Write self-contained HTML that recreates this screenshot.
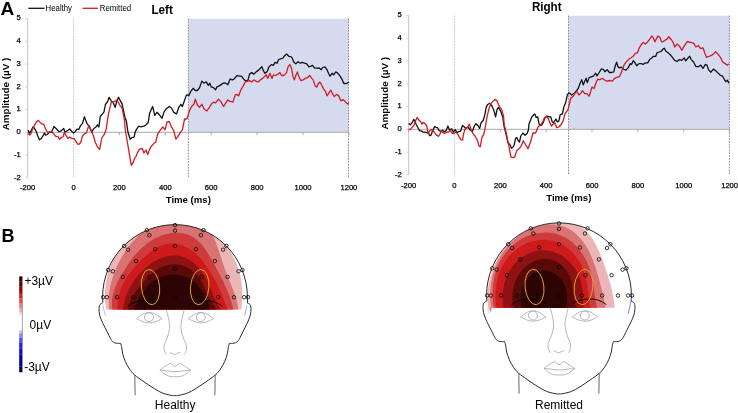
<!DOCTYPE html>
<html><head><meta charset="utf-8"><style>
html,body{margin:0;padding:0;background:#fff;}
body{width:738px;height:413px;overflow:hidden;font-family:"Liberation Sans", sans-serif;}
svg{display:block;will-change:transform;}
</style></head><body>
<svg width="738" height="413" viewBox="0 0 738 413" style="font-family:'Liberation Sans', sans-serif">
<rect width="738" height="413" fill="#fff"/>
<text x="0.6" y="14.9" font-size="19" font-weight="bold">A</text>
<text x="1.5" y="241.6" font-size="18" font-weight="bold">B</text>
<line x1="28.3" y1="8.3" x2="44.5" y2="8.3" stroke="#111" stroke-width="1.3"/>
<text x="45.6" y="10.9" font-size="8.8" textLength="26.4" lengthAdjust="spacingAndGlyphs">Healthy</text>
<line x1="82.5" y1="8.3" x2="98" y2="8.3" stroke="#d01c24" stroke-width="1.3"/>
<text x="99.8" y="10.9" font-size="8.8" textLength="31.4" lengthAdjust="spacingAndGlyphs">Remitted</text>
<rect x="188.40" y="18.75" width="160.10" height="113.55" fill="#d6daee"/>
<line x1="73.65" y1="18.55" x2="73.65" y2="177.80" stroke="#c0c0c0" stroke-width="0.9" stroke-dasharray="1.8,1.05"/>
<line x1="188.40" y1="18.55" x2="188.40" y2="177.80" stroke="#858585" stroke-width="0.9" stroke-dasharray="1.8,1.05"/>
<line x1="348.50" y1="18.55" x2="348.50" y2="177.80" stroke="#858585" stroke-width="0.9" stroke-dasharray="1.8,1.05"/>
<line x1="27.60" y1="18.55" x2="27.60" y2="177.80" stroke="#d0d0d0" stroke-width="1.3"/>
<line x1="25.40" y1="177.80" x2="27.60" y2="177.80" stroke="#c8c8c8" stroke-width="0.8"/>
<text x="20.80" y="179.70" font-size="7.6" text-anchor="end" stroke="#000" stroke-width="0.25">-2</text>
<line x1="25.40" y1="155.05" x2="27.60" y2="155.05" stroke="#c8c8c8" stroke-width="0.8"/>
<text x="20.80" y="156.95" font-size="7.6" text-anchor="end" stroke="#000" stroke-width="0.25">-1</text>
<line x1="25.40" y1="132.30" x2="27.60" y2="132.30" stroke="#c8c8c8" stroke-width="0.8"/>
<text x="20.80" y="134.20" font-size="7.6" text-anchor="end" stroke="#000" stroke-width="0.25">0</text>
<line x1="25.40" y1="109.55" x2="27.60" y2="109.55" stroke="#c8c8c8" stroke-width="0.8"/>
<text x="20.80" y="111.45" font-size="7.6" text-anchor="end" stroke="#000" stroke-width="0.25">1</text>
<line x1="25.40" y1="86.80" x2="27.60" y2="86.80" stroke="#c8c8c8" stroke-width="0.8"/>
<text x="20.80" y="88.70" font-size="7.6" text-anchor="end" stroke="#000" stroke-width="0.25">2</text>
<line x1="25.40" y1="64.05" x2="27.60" y2="64.05" stroke="#c8c8c8" stroke-width="0.8"/>
<text x="20.80" y="65.95" font-size="7.6" text-anchor="end" stroke="#000" stroke-width="0.25">3</text>
<line x1="25.40" y1="41.30" x2="27.60" y2="41.30" stroke="#c8c8c8" stroke-width="0.8"/>
<text x="20.80" y="43.20" font-size="7.6" text-anchor="end" stroke="#000" stroke-width="0.25">4</text>
<line x1="25.40" y1="18.55" x2="27.60" y2="18.55" stroke="#c8c8c8" stroke-width="0.8"/>
<text x="20.80" y="20.45" font-size="7.6" text-anchor="end" stroke="#000" stroke-width="0.25">5</text>
<line x1="27.60" y1="132.30" x2="348.90" y2="132.30" stroke="#a8a8a8" stroke-width="1"/>
<line x1="27.60" y1="132.30" x2="27.60" y2="135.30" stroke="#9a9a9a" stroke-width="0.8"/>
<text x="27.60" y="190.20" font-size="7.6" text-anchor="middle" stroke="#000" stroke-width="0.25">-200</text>
<line x1="73.50" y1="132.30" x2="73.50" y2="135.30" stroke="#9a9a9a" stroke-width="0.8"/>
<text x="73.50" y="190.20" font-size="7.6" text-anchor="middle" stroke="#000" stroke-width="0.25">0</text>
<line x1="119.40" y1="132.30" x2="119.40" y2="135.30" stroke="#9a9a9a" stroke-width="0.8"/>
<text x="119.40" y="190.20" font-size="7.6" text-anchor="middle" stroke="#000" stroke-width="0.25">200</text>
<line x1="165.30" y1="132.30" x2="165.30" y2="135.30" stroke="#9a9a9a" stroke-width="0.8"/>
<text x="165.30" y="190.20" font-size="7.6" text-anchor="middle" stroke="#000" stroke-width="0.25">400</text>
<line x1="211.20" y1="132.30" x2="211.20" y2="135.30" stroke="#9a9a9a" stroke-width="0.8"/>
<text x="211.20" y="190.20" font-size="7.6" text-anchor="middle" stroke="#000" stroke-width="0.25">600</text>
<line x1="257.10" y1="132.30" x2="257.10" y2="135.30" stroke="#9a9a9a" stroke-width="0.8"/>
<text x="257.10" y="190.20" font-size="7.6" text-anchor="middle" stroke="#000" stroke-width="0.25">800</text>
<line x1="303.00" y1="132.30" x2="303.00" y2="135.30" stroke="#9a9a9a" stroke-width="0.8"/>
<text x="303.00" y="190.20" font-size="7.6" text-anchor="middle" stroke="#000" stroke-width="0.25">1000</text>
<line x1="348.90" y1="132.30" x2="348.90" y2="135.30" stroke="#9a9a9a" stroke-width="0.8"/>
<text x="348.90" y="190.20" font-size="7.6" text-anchor="middle" stroke="#000" stroke-width="0.25">1200</text>
<polyline points="28.4,130.0 29.2,133.3 30.8,131.5 32.9,126.9 34.1,127.8 35.9,130.8 37.7,135.7 39.5,139.7 41.3,138.5 43.1,135.7 44.4,132.9 45.6,135.1 47.4,134.5 49.2,132.4 51.6,132.1 54.0,126.4 56.5,129.0 58.9,131.7 61.3,130.8 63.7,128.4 64.9,132.1 67.3,130.8 69.8,129.0 71.6,131.2 73.4,132.9 75.2,131.7 77.0,129.0 78.8,129.6 80.6,125.4 82.5,123.6 84.4,116.6 85.8,120.5 87.3,124.1 89.4,126.3 91.6,132.1 93.8,128.5 96.0,127.0 97.4,124.9 98.9,127.0 100.3,116.2 102.5,114.0 104.0,111.8 105.4,104.5 107.6,101.6 109.1,97.3 111.2,100.9 113.4,103.1 115.2,107.4 116.6,101.6 118.5,97.3 120.4,100.9 122.1,103.8 123.6,111.1 125.0,117.4 126.5,121.8 127.9,132.0 130.2,139.3 131.9,137.6 134.1,137.1 135.1,132.2 136.6,129.1 138.8,126.2 141.0,126.9 143.9,126.2 146.1,124.7 148.2,122.5 149.7,113.1 152.6,106.5 154.8,115.3 157.0,112.3 159.1,114.5 162.0,118.2 164.2,111.6 166.4,108.7 169.3,106.5 171.5,108.0 173.7,112.3 176.6,113.8 178.8,107.3 180.9,104.4 182.4,106.5 184.4,100.7 186.5,94.9 188.7,95.6 190.9,91.2 193.1,88.3 195.3,90.5 197.4,90.5 199.6,87.6 201.8,81.1 204.0,83.2 206.2,81.8 208.3,85.4 209.8,83.2 211.2,86.9 213.4,87.6 215.6,89.8 217.0,86.9 219.2,85.9 221.4,84.4 223.6,83.0 225.8,83.2 227.9,84.7 230.1,78.9 232.3,80.0 234.5,78.6 235.0,77.7 237.2,75.5 239.4,76.2 241.5,76.2 243.7,79.1 245.9,81.3 248.1,79.9 249.5,74.1 251.7,72.6 253.9,74.1 256.1,71.9 258.2,70.4 259.7,69.0 261.9,66.8 263.3,70.4 264.8,73.3 267.0,71.9 269.1,66.8 271.3,64.6 273.5,65.3 275.0,62.4 277.1,63.2 278.6,59.5 280.8,58.8 282.9,58.1 284.4,55.9 286.6,54.0 288.8,56.3 290.9,56.6 292.2,58.1 293.6,61.7 295.8,63.9 298.0,61.7 300.2,63.2 302.3,62.4 304.5,63.2 306.7,63.9 308.9,66.8 311.1,66.1 312.5,65.3 314.7,68.2 316.9,68.2 319.1,68.0 321.2,69.7 322.7,67.5 324.9,66.8 327.0,69.7 328.5,73.3 330.0,76.2 332.1,73.3 333.6,74.8 335.8,71.9 337.9,73.3 340.1,76.2 342.3,79.9 343.8,83.5 345.9,83.5 347.4,83.1 348.8,82.0" fill="none" stroke="#111" stroke-width="1.3" stroke-linejoin="round"/>
<polyline points="28.4,133.9 29.8,135.1 31.0,133.6 32.9,128.4 34.7,124.8 36.5,121.8 38.3,120.3 40.1,122.4 42.5,124.2 43.7,124.2 45.6,129.0 47.4,132.1 49.2,132.1 51.0,131.5 53.4,133.3 55.8,136.3 58.3,136.9 59.5,139.3 61.3,137.5 63.1,136.9 64.3,132.4 66.1,135.7 67.9,138.5 69.8,136.9 72.2,138.7 74.0,138.7 75.8,141.1 77.6,144.2 79.4,144.2 81.2,141.1 82.2,136.5 84.4,133.6 86.5,132.9 88.7,125.6 90.9,130.0 93.1,135.0 95.3,142.3 97.4,146.7 99.6,149.6 101.8,138.0 104.7,133.6 106.2,129.2 108.3,114.7 111.2,102.3 114.1,101.6 117.0,100.2 120.0,105.3 122.1,108.2 124.3,119.1 125.3,130.0 126.4,136.5 128.1,146.3 129.7,156.1 131.3,165.4 133.0,162.7 134.6,158.3 136.2,156.1 137.9,151.8 139.5,149.1 142.2,148.5 143.9,152.9 146.0,150.1 147.7,154.5 149.3,150.1 150.9,146.9 153.7,143.6 155.8,142.0 157.5,134.4 159.6,131.1 162.8,126.9 165.0,129.8 167.1,121.8 169.3,121.5 171.5,126.9 173.7,130.5 175.9,139.2 178.0,136.3 180.2,132.7 182.4,129.8 184.6,118.9 185.1,119.6 187.3,118.1 189.4,110.9 191.6,106.5 193.8,104.3 195.3,99.2 197.4,105.0 199.6,107.2 201.8,104.3 204.0,108.7 206.9,110.9 209.1,107.9 211.2,104.3 213.4,102.1 215.6,102.9 218.5,99.2 220.7,101.4 223.6,106.5 225.8,102.9 227.9,100.0 230.1,101.4 233.0,102.1 235.2,94.9 236.5,94.4 238.6,95.9 240.8,90.0 243.0,86.4 245.2,82.0 247.3,81.3 249.5,80.6 251.7,82.0 253.9,79.9 256.1,81.3 258.2,82.0 260.4,79.9 262.6,78.4 264.8,76.2 266.2,74.8 267.7,78.4 269.9,73.3 272.0,78.4 273.5,74.8 275.7,75.5 277.9,74.1 280.0,72.6 281.5,75.5 283.7,75.5 285.1,74.1 286.6,72.6 288.0,66.8 289.9,64.6 291.5,68.2 292.9,76.2 294.4,79.9 295.8,75.5 297.3,71.9 298.7,76.2 300.9,80.6 303.1,79.9 305.3,78.4 307.4,77.7 309.6,75.5 311.8,78.4 313.2,79.9 315.4,86.4 316.9,87.1 318.3,83.5 319.8,82.0 321.2,84.2 323.4,88.6 325.6,91.5 327.0,95.9 328.5,93.7 330.7,90.0 332.1,92.9 334.3,96.6 336.5,94.4 338.7,95.9 340.9,100.9 343.0,99.5 345.2,101.6 347.4,103.8 348.8,103.1" fill="none" stroke="#d01c24" stroke-width="1.3" stroke-linejoin="round"/>
<text x="151.4" y="13.5" font-size="12" font-weight="bold" textLength="21.4" lengthAdjust="spacingAndGlyphs">Left</text>
<text transform="translate(8.6,94.0) rotate(-90)" font-size="9.9" font-weight="bold" text-anchor="middle">Amplitude (µV )</text>
<text x="188.3" y="203.2" font-size="9.6" font-weight="bold" text-anchor="middle">Time (ms)</text>
<rect x="568.50" y="15.75" width="160.90" height="113.55" fill="#d6daee"/>
<line x1="454.55" y1="15.55" x2="454.55" y2="174.80" stroke="#c0c0c0" stroke-width="0.9" stroke-dasharray="1.8,1.05"/>
<line x1="568.50" y1="15.55" x2="568.50" y2="174.80" stroke="#858585" stroke-width="0.9" stroke-dasharray="1.8,1.05"/>
<line x1="729.40" y1="15.55" x2="729.40" y2="174.80" stroke="#858585" stroke-width="0.9" stroke-dasharray="1.8,1.05"/>
<line x1="408.60" y1="15.55" x2="408.60" y2="174.80" stroke="#d0d0d0" stroke-width="1.3"/>
<line x1="406.40" y1="174.80" x2="408.60" y2="174.80" stroke="#c8c8c8" stroke-width="0.8"/>
<text x="401.80" y="176.70" font-size="7.6" text-anchor="end" stroke="#000" stroke-width="0.25">-2</text>
<line x1="406.40" y1="152.05" x2="408.60" y2="152.05" stroke="#c8c8c8" stroke-width="0.8"/>
<text x="401.80" y="153.95" font-size="7.6" text-anchor="end" stroke="#000" stroke-width="0.25">-1</text>
<line x1="406.40" y1="129.30" x2="408.60" y2="129.30" stroke="#c8c8c8" stroke-width="0.8"/>
<text x="401.80" y="131.20" font-size="7.6" text-anchor="end" stroke="#000" stroke-width="0.25">0</text>
<line x1="406.40" y1="106.55" x2="408.60" y2="106.55" stroke="#c8c8c8" stroke-width="0.8"/>
<text x="401.80" y="108.45" font-size="7.6" text-anchor="end" stroke="#000" stroke-width="0.25">1</text>
<line x1="406.40" y1="83.80" x2="408.60" y2="83.80" stroke="#c8c8c8" stroke-width="0.8"/>
<text x="401.80" y="85.70" font-size="7.6" text-anchor="end" stroke="#000" stroke-width="0.25">2</text>
<line x1="406.40" y1="61.05" x2="408.60" y2="61.05" stroke="#c8c8c8" stroke-width="0.8"/>
<text x="401.80" y="62.95" font-size="7.6" text-anchor="end" stroke="#000" stroke-width="0.25">3</text>
<line x1="406.40" y1="38.30" x2="408.60" y2="38.30" stroke="#c8c8c8" stroke-width="0.8"/>
<text x="401.80" y="40.20" font-size="7.6" text-anchor="end" stroke="#000" stroke-width="0.25">4</text>
<line x1="406.40" y1="15.55" x2="408.60" y2="15.55" stroke="#c8c8c8" stroke-width="0.8"/>
<text x="401.80" y="17.45" font-size="7.6" text-anchor="end" stroke="#000" stroke-width="0.25">5</text>
<line x1="408.60" y1="129.30" x2="729.62" y2="129.30" stroke="#a8a8a8" stroke-width="1"/>
<line x1="408.60" y1="129.30" x2="408.60" y2="132.30" stroke="#9a9a9a" stroke-width="0.8"/>
<text x="408.60" y="187.60" font-size="7.6" text-anchor="middle" stroke="#000" stroke-width="0.25">-200</text>
<line x1="454.46" y1="129.30" x2="454.46" y2="132.30" stroke="#9a9a9a" stroke-width="0.8"/>
<text x="454.46" y="187.60" font-size="7.6" text-anchor="middle" stroke="#000" stroke-width="0.25">0</text>
<line x1="500.32" y1="129.30" x2="500.32" y2="132.30" stroke="#9a9a9a" stroke-width="0.8"/>
<text x="500.32" y="187.60" font-size="7.6" text-anchor="middle" stroke="#000" stroke-width="0.25">200</text>
<line x1="546.18" y1="129.30" x2="546.18" y2="132.30" stroke="#9a9a9a" stroke-width="0.8"/>
<text x="546.18" y="187.60" font-size="7.6" text-anchor="middle" stroke="#000" stroke-width="0.25">400</text>
<line x1="592.04" y1="129.30" x2="592.04" y2="132.30" stroke="#9a9a9a" stroke-width="0.8"/>
<text x="592.04" y="187.60" font-size="7.6" text-anchor="middle" stroke="#000" stroke-width="0.25">600</text>
<line x1="637.90" y1="129.30" x2="637.90" y2="132.30" stroke="#9a9a9a" stroke-width="0.8"/>
<text x="637.90" y="187.60" font-size="7.6" text-anchor="middle" stroke="#000" stroke-width="0.25">800</text>
<line x1="683.76" y1="129.30" x2="683.76" y2="132.30" stroke="#9a9a9a" stroke-width="0.8"/>
<text x="683.76" y="187.60" font-size="7.6" text-anchor="middle" stroke="#000" stroke-width="0.25">1000</text>
<line x1="729.62" y1="129.30" x2="729.62" y2="132.30" stroke="#9a9a9a" stroke-width="0.8"/>
<text x="729.62" y="187.60" font-size="7.6" text-anchor="middle" stroke="#000" stroke-width="0.25">1200</text>
<polyline points="408.6,123.6 410.4,124.8 412.3,122.4 413.7,119.4 414.9,121.2 416.1,124.2 417.7,127.2 419.5,130.8 421.3,130.8 423.1,132.1 425.0,132.1 426.8,132.4 428.6,133.3 429.8,135.7 431.0,135.1 432.8,130.2 434.6,126.6 435.8,127.2 437.7,127.8 438.9,130.2 440.7,131.5 442.5,130.2 444.3,131.7 446.1,130.8 447.9,126.0 449.5,130.2 451.6,128.8 453.4,132.1 455.2,129.6 457.0,132.7 458.8,131.5 460.6,131.2 462.5,125.4 464.4,127.0 465.8,128.5 468.0,127.0 470.2,130.0 472.3,131.4 474.5,125.6 476.0,123.7 478.2,126.0 479.6,128.5 481.1,122.7 483.2,120.5 484.7,115.4 486.2,107.4 487.6,104.5 489.8,103.4 492.0,106.0 494.1,111.1 495.6,116.9 497.0,109.6 498.5,107.4 500.7,111.1 502.9,117.6 503.8,125.0 505.9,133.5 508.0,142.8 510.2,144.9 511.4,148.3 512.7,147.5 514.0,145.3 515.7,138.1 516.9,137.7 518.2,140.7 519.5,142.0 520.8,136.0 522.9,133.0 525.0,135.2 527.1,133.5 528.4,130.1 529.0,124.1 530.4,120.4 531.9,116.8 533.3,115.3 534.8,113.9 536.2,117.5 537.7,116.8 539.1,124.1 540.6,125.5 542.0,124.8 543.5,121.9 545.0,117.5 547.1,116.1 549.3,116.8 550.8,116.8 552.2,121.9 553.7,122.6 555.9,119.0 557.3,121.9 558.8,121.2 560.2,114.6 562.4,113.9 563.8,107.3 565.8,102.3 567.3,95.0 568.7,92.9 570.2,93.6 571.6,95.0 573.8,93.6 576.0,91.4 578.2,88.5 580.3,82.7 581.8,79.8 583.2,84.9 584.7,81.2 586.2,78.3 587.3,82.7 589.1,77.6 591.2,76.9 593.4,76.2 595.6,73.2 597.0,75.9 599.2,72.5 601.4,68.9 603.6,69.6 605.0,71.8 607.2,69.6 609.4,72.5 611.6,72.5 613.8,71.8 615.2,66.0 616.6,62.2 617.9,66.5 619.4,67.9 621.5,67.2 623.7,69.4 625.9,70.1 628.1,67.9 630.3,63.6 631.7,64.3 633.2,60.7 634.6,62.1 636.8,65.8 639.0,63.6 641.2,63.6 643.3,64.3 645.5,62.9 647.7,62.9 649.9,59.2 652.0,57.8 653.5,56.3 655.7,56.3 657.1,52.7 659.3,52.0 661.5,51.2 662.9,49.1 664.4,48.3 665.9,51.2 668.0,52.7 670.1,54.5 672.4,57.3 674.7,60.4 677.1,61.5 679.4,59.6 681.8,60.4 684.2,58.0 685.7,60.9 688.1,58.0 689.7,56.2 691.2,59.6 693.6,62.0 696.0,66.7 698.3,66.7 700.7,65.1 703.0,68.3 705.4,64.3 707.0,65.1 708.6,69.9 710.9,72.2 713.3,69.1 715.6,70.6 718.0,73.0 720.4,75.4 722.7,76.2 724.3,79.3 725.9,81.7 727.4,80.1 729.0,83.2" fill="none" stroke="#111" stroke-width="1.3" stroke-linejoin="round"/>
<polyline points="408.6,129.0 410.4,129.6 412.3,127.2 414.1,124.8 415.6,120.6 417.1,117.5 418.9,120.0 420.7,121.8 421.9,124.2 423.1,122.4 425.0,123.6 426.8,126.0 428.0,133.9 429.2,131.5 431.0,129.6 432.8,130.8 434.6,132.7 436.5,135.1 438.3,136.3 440.1,133.9 441.3,130.8 443.1,132.7 444.9,133.3 446.7,132.1 448.5,132.1 450.4,130.2 452.2,133.3 454.0,133.6 455.8,132.1 457.6,133.9 459.4,137.5 461.2,139.9 462.6,140.1 463.6,133.6 465.1,129.2 467.3,127.5 469.4,124.1 470.9,129.2 473.1,133.6 475.3,136.5 477.4,140.1 478.9,145.9 480.3,146.7 481.8,137.9 484.0,133.6 485.4,126.3 486.9,117.6 489.1,108.2 491.2,103.1 492.7,101.6 494.9,99.4 497.0,100.9 498.5,104.5 500.0,107.4 501.4,108.9 503.6,116.2 504.2,125.0 506.4,133.5 508.5,144.5 510.0,152.0 511.0,157.2 512.7,157.6 514.8,156.8 516.9,150.4 519.5,148.3 521.2,146.2 523.3,140.7 525.4,144.5 528.0,148.7 530.5,142.0 533.0,133.0 535.6,133.0 538.1,126.7 540.6,124.8 542.8,121.9 544.2,118.2 546.4,116.1 548.6,119.0 550.0,123.3 551.5,126.2 552.9,124.1 555.1,123.3 556.6,127.7 558.8,127.0 560.9,124.8 563.1,121.2 565.0,113.9 568.0,109.6 569.4,103.8 570.9,97.9 573.1,96.5 575.3,92.9 576.7,91.4 578.9,95.0 581.1,92.9 582.5,90.7 584.7,93.6 586.9,93.6 589.1,96.2 590.5,92.1 592.0,87.0 594.1,88.5 596.3,82.0 597.8,79.1 600.0,79.8 602.1,78.3 604.3,79.8 606.5,81.2 609.4,80.5 612.3,81.2 614.5,78.3 616.7,77.4 619.4,76.7 620.8,73.8 622.3,69.4 624.4,64.3 626.6,61.4 628.8,59.2 631.0,57.8 633.2,56.3 635.3,53.4 637.5,52.7 639.0,48.3 641.2,44.7 643.3,42.5 645.5,44.0 647.7,41.8 649.9,38.9 652.0,36.0 653.5,38.2 654.9,41.8 656.4,38.9 657.9,36.0 660.0,37.4 661.5,41.8 662.9,41.8 665.1,40.3 667.3,38.9 668.8,36.7 670.2,38.5 671.6,40.0 673.1,42.3 674.7,47.0 677.1,43.9 679.4,46.2 681.8,50.2 684.2,46.2 687.3,41.5 690.5,42.3 693.6,43.1 696.0,47.0 698.3,45.5 700.7,48.6 703.0,47.8 704.6,52.5 706.5,57.3 708.6,56.5 710.9,55.7 713.3,54.1 715.6,51.8 718.0,54.1 720.4,57.3 722.7,62.0 725.1,63.6 727.4,65.1 729.0,63.6" fill="none" stroke="#d01c24" stroke-width="1.3" stroke-linejoin="round"/>
<text x="531.9" y="10.8" font-size="12" font-weight="bold" textLength="29.7" lengthAdjust="spacingAndGlyphs">Right</text>
<text transform="translate(387.6,93.3) rotate(-90)" font-size="9.9" font-weight="bold" text-anchor="middle">Amplitude (µV )</text>
<text x="568.8" y="200.6" font-size="9.6" font-weight="bold" text-anchor="middle">Time (ms)</text>
<rect x="19.2" y="276.4" width="3.0" height="4.95" fill="#300000"/>
<rect x="19.2" y="281.3" width="3.0" height="4.85" fill="#5e0000"/>
<rect x="19.2" y="286.1" width="3.0" height="4.95" fill="#8e0000"/>
<rect x="19.2" y="291" width="3.0" height="3.65" fill="#be0202"/>
<rect x="19.2" y="294.6" width="3.0" height="3.65" fill="#dc1414"/>
<rect x="19.2" y="298.2" width="3.0" height="4.85" fill="#e04c4c"/>
<rect x="19.2" y="303" width="3.0" height="4.95" fill="#e88080"/>
<rect x="19.2" y="307.9" width="3.0" height="4.85" fill="#f0b0b0"/>
<rect x="19.2" y="312.7" width="3.0" height="2.55" fill="#f8dede"/>
<rect x="19.2" y="315.2" width="3.0" height="15.05" fill="#ffffff"/>
<rect x="19.2" y="330.2" width="3.0" height="3.15" fill="#c4c4f6"/>
<rect x="19.2" y="333.3" width="3.0" height="4.45" fill="#8484f0"/>
<rect x="19.2" y="337.7" width="3.0" height="5.15" fill="#5050f4"/>
<rect x="19.2" y="342.8" width="3.0" height="5.65" fill="#2020f0"/>
<rect x="19.2" y="348.4" width="3.0" height="6.35" fill="#0a0ad8"/>
<rect x="19.2" y="354.7" width="3.0" height="6.35" fill="#0000b0"/>
<rect x="19.2" y="361" width="3.0" height="5.75" fill="#000080"/>
<rect x="19.2" y="366.7" width="3.0" height="5.55" fill="#00004c"/>
<line x1="22.4" y1="276.4" x2="22.4" y2="372.2" stroke="#666" stroke-width="0.6"/>
<text x="24.4" y="284.6" font-size="12">+3µV</text>
<text x="29.6" y="329.0" font-size="12">0µV</text>
<text x="24.2" y="370.8" font-size="12">-3µV</text>
<clipPath id="clipH"><path d="M102.60,309.40 L102.60,297.00 A72.4,72.4 0 0 1 247.40,297.00 L247.40,309.40 Z"/></clipPath>
<g clip-path="url(#clipH)">
<rect x="0" y="200" width="738" height="213" fill="#ffffff"/>
<path d="M106.94,316.00 L106.94,314.03 L106.48,311.69 L106.08,309.32 L105.72,306.90 L105.43,304.45 L105.20,301.96 L105.05,299.43 L104.96,296.87 L104.95,294.28 L105.02,291.65 L105.18,289.00 L105.43,286.32 L105.78,283.62 L106.22,280.90 L106.76,278.17 L107.41,275.43 L108.16,272.69 L109.02,269.96 L110.00,267.23 L111.09,264.51 L112.29,261.81 L113.61,259.14 L115.05,256.51 L116.61,253.91 L118.28,251.36 L120.08,248.86 L121.99,246.42 L124.01,244.05 L126.15,241.75 L128.40,239.53 L130.75,237.41 L133.21,235.38 L135.78,233.45 L138.43,231.63 L141.18,229.92 L144.02,228.34 L146.94,226.89 L149.93,225.57 L152.99,224.39 L156.11,223.35 L159.29,222.47 L162.51,221.74 L165.76,221.17 L169.05,220.77 L172.35,220.53 L175.66,220.46 L178.97,220.56 L182.28,220.83 L185.56,221.28 L188.81,221.90 L192.02,222.70 L195.18,223.67 L198.28,224.80 L201.31,226.09 L204.26,227.53 L207.12,229.12 L209.90,230.84 L212.58,232.69 L215.15,234.66 L217.61,236.74 L219.97,238.93 L222.20,241.21 L224.32,243.57 L226.32,246.02 L228.19,248.53 L229.94,251.11 L231.56,253.73 L233.06,256.40 L234.43,259.11 L235.68,261.85 L236.81,264.61 L237.83,267.38 L238.72,270.15 L239.50,272.93 L240.18,275.71 L240.75,278.47 L241.22,281.22 L241.59,283.94 L241.87,286.65 L242.06,289.32 L242.18,291.96 L242.22,294.57 L242.18,297.14 L242.09,299.67 L241.94,302.17 L241.73,304.62 L241.48,307.04 L241.19,309.42 L240.86,311.76 L240.50,314.07 L240.50,316.00 L240.5,330 L106.9,330 Z" fill="#edb6b6"/>
<path d="M110.28,316.00 L110.28,314.03 L109.79,311.81 L109.39,309.55 L109.09,307.26 L108.88,304.95 L108.77,302.61 L108.74,300.25 L108.81,297.87 L108.96,295.47 L109.20,293.06 L109.52,290.65 L109.93,288.22 L110.42,285.78 L110.99,283.34 L111.64,280.88 L112.36,278.43 L113.17,275.97 L114.05,273.50 L115.01,271.03 L116.04,268.55 L117.15,266.07 L118.34,263.58 L119.61,261.09 L120.95,258.58 L122.37,256.07 L123.88,253.57 L125.49,251.06 L127.19,248.58 L128.99,246.11 L130.91,243.68 L132.93,241.30 L135.07,238.97 L137.33,236.70 L139.69,234.51 L142.18,232.40 L144.77,230.39 L147.47,228.50 L150.28,226.72 L153.19,225.08 L156.19,223.59 L159.28,222.24 L162.44,221.07 L165.68,220.07 L168.97,219.26 L172.32,218.64 L175.69,218.23 L179.09,218.03 L182.49,218.06 L185.88,218.35 L189.24,218.90 L192.54,219.73 L195.76,220.86 L198.87,222.29 L201.85,224.03 L204.66,226.10 L207.28,228.50 L209.65,231.22 L211.77,234.27 L213.61,237.58 L215.20,241.05 L216.58,244.56 L217.80,248.03 L218.93,251.37 L219.99,254.55 L220.99,257.58 L221.96,260.47 L222.89,263.24 L223.80,265.89 L224.70,268.43 L225.58,270.88 L226.46,273.24 L227.34,275.53 L228.21,277.76 L229.09,279.94 L229.96,282.08 L230.82,284.18 L231.67,286.27 L232.51,288.35 L233.32,290.43 L234.10,292.50 L234.84,294.59 L235.53,296.69 L236.17,298.80 L236.74,300.93 L237.23,303.08 L237.63,305.24 L237.94,307.42 L238.14,309.61 L238.22,311.81 L238.16,314.00 L238.16,316.00 L238.2,330 L110.3,330 Z" fill="#d97272"/>
<path d="M113.74,316.00 L113.74,314.05 L113.05,311.93 L112.53,309.77 L112.17,307.58 L111.97,305.38 L111.92,303.17 L112.01,300.96 L112.23,298.75 L112.58,296.55 L113.04,294.37 L113.61,292.21 L114.28,290.08 L115.03,287.96 L115.87,285.87 L116.78,283.80 L117.76,281.75 L118.80,279.71 L119.89,277.69 L121.02,275.68 L122.20,273.68 L123.42,271.67 L124.68,269.65 L125.97,267.62 L127.30,265.57 L128.67,263.51 L130.10,261.45 L131.59,259.39 L133.16,257.33 L134.79,255.29 L136.52,253.27 L138.32,251.28 L140.22,249.34 L142.20,247.45 L144.28,245.63 L146.45,243.88 L148.72,242.22 L151.07,240.66 L153.51,239.20 L156.03,237.87 L158.63,236.67 L161.29,235.61 L164.02,234.71 L166.81,233.97 L169.63,233.41 L172.49,233.03 L175.36,232.84 L178.25,232.87 L181.12,233.13 L183.96,233.62 L186.75,234.35 L189.47,235.34 L192.11,236.59 L194.63,238.11 L197.01,239.90 L199.24,241.90 L201.33,244.08 L203.26,246.40 L205.04,248.81 L206.69,251.26 L208.22,253.73 L209.66,256.17 L211.01,258.56 L212.31,260.88 L213.55,263.13 L214.74,265.32 L215.89,267.46 L217.01,269.55 L218.09,271.60 L219.13,273.60 L220.15,275.57 L221.14,277.51 L222.11,279.43 L223.05,281.33 L223.97,283.21 L224.86,285.08 L225.73,286.95 L226.57,288.82 L227.38,290.69 L228.17,292.56 L228.91,294.44 L229.62,296.33 L230.29,298.23 L230.91,300.15 L231.49,302.09 L232.01,304.03 L232.47,306.00 L232.87,307.98 L233.21,309.97 L233.47,311.97 L233.65,313.98 L233.65,316.00 L233.7,330 L113.7,330 Z" fill="#cf3a3a"/>
<path d="M117.71,316.00 L117.71,314.02 L117.53,312.09 L117.42,310.14 L117.39,308.18 L117.43,306.22 L117.54,304.24 L117.73,302.26 L117.99,300.28 L118.33,298.30 L118.74,296.33 L119.22,294.36 L119.78,292.40 L120.41,290.46 L121.11,288.52 L121.88,286.61 L122.72,284.71 L123.63,282.84 L124.61,280.99 L125.66,279.16 L126.77,277.37 L127.95,275.60 L129.19,273.86 L130.48,272.15 L131.83,270.46 L133.23,268.80 L134.68,267.15 L136.17,265.52 L137.70,263.89 L139.27,262.27 L140.89,260.64 L142.54,259.01 L144.25,257.38 L146.01,255.74 L147.83,254.13 L149.73,252.56 L151.70,251.05 L153.75,249.62 L155.89,248.28 L158.10,247.07 L160.39,246.00 L162.75,245.10 L165.16,244.38 L167.62,243.86 L170.12,243.57 L172.62,243.51 L175.13,243.68 L177.62,244.08 L180.07,244.67 L182.47,245.46 L184.81,246.42 L187.08,247.54 L189.27,248.81 L191.38,250.20 L193.39,251.71 L195.31,253.31 L197.14,254.99 L198.87,256.74 L200.51,258.53 L202.06,260.36 L203.52,262.20 L204.91,264.05 L206.23,265.90 L207.49,267.72 L208.69,269.54 L209.84,271.34 L210.94,273.12 L211.99,274.89 L213.00,276.64 L213.97,278.37 L214.90,280.09 L215.80,281.80 L216.66,283.50 L217.50,285.18 L218.30,286.85 L219.09,288.52 L219.85,290.18 L220.59,291.84 L221.31,293.49 L222.01,295.14 L222.70,296.79 L223.37,298.45 L224.03,300.12 L224.67,301.79 L225.29,303.47 L225.91,305.17 L226.50,306.88 L227.09,308.62 L227.65,310.37 L228.20,312.14 L228.74,313.95 L228.74,316.00 L228.7,330 L117.7,330 Z" fill="#cf1a1c"/>
<path d="M122.51,316.00 L122.51,313.98 L122.58,312.25 L122.72,310.51 L122.91,308.78 L123.15,307.06 L123.45,305.34 L123.80,303.62 L124.20,301.91 L124.66,300.22 L125.17,298.53 L125.72,296.85 L126.33,295.18 L126.99,293.53 L127.69,291.89 L128.45,290.27 L129.25,288.66 L130.10,287.06 L131.00,285.49 L131.94,283.93 L132.94,282.39 L133.97,280.87 L135.06,279.37 L136.18,277.89 L137.36,276.43 L138.58,274.99 L139.84,273.57 L141.15,272.18 L142.51,270.81 L143.91,269.46 L145.36,268.14 L146.85,266.85 L148.39,265.58 L149.98,264.36 L151.63,263.18 L153.33,262.06 L155.08,260.99 L156.88,260.00 L158.74,259.08 L160.64,258.25 L162.59,257.51 L164.58,256.88 L166.60,256.35 L168.65,255.94 L170.72,255.65 L172.81,255.49 L174.91,255.47 L177.00,255.58 L179.08,255.85 L181.13,256.27 L183.15,256.85 L185.12,257.57 L187.04,258.43 L188.90,259.42 L190.68,260.52 L192.40,261.73 L194.03,263.03 L195.59,264.41 L197.06,265.86 L198.45,267.37 L199.76,268.93 L200.99,270.53 L202.14,272.15 L203.21,273.79 L204.22,275.44 L205.17,277.08 L206.05,278.72 L206.89,280.34 L207.68,281.95 L208.42,283.55 L209.13,285.12 L209.81,286.67 L210.46,288.19 L211.08,289.70 L211.70,291.18 L212.30,292.64 L212.91,294.07 L213.51,295.49 L214.12,296.89 L214.75,298.27 L215.39,299.64 L216.06,301.01 L216.76,302.37 L217.49,303.73 L218.26,305.11 L219.07,306.49 L219.93,307.90 L220.83,309.34 L221.79,310.80 L222.80,312.32 L223.86,313.88 L223.86,316.00 L223.9,330 L122.5,330 Z" fill="#8e1212"/>
<path d="M127.95,316.00 L127.95,314.00 L127.86,312.44 L127.87,310.87 L127.99,309.32 L128.21,307.77 L128.52,306.24 L128.91,304.73 L129.38,303.24 L129.93,301.77 L130.54,300.33 L131.22,298.93 L131.94,297.55 L132.72,296.20 L133.53,294.88 L134.39,293.58 L135.27,292.31 L136.18,291.06 L137.11,289.83 L138.07,288.62 L139.03,287.41 L140.01,286.21 L141.00,285.01 L142.00,283.81 L143.02,282.61 L144.05,281.40 L145.11,280.19 L146.20,278.99 L147.32,277.80 L148.48,276.62 L149.68,275.46 L150.92,274.32 L152.20,273.21 L153.54,272.14 L154.92,271.11 L156.35,270.12 L157.83,269.19 L159.36,268.31 L160.93,267.51 L162.54,266.77 L164.19,266.12 L165.88,265.55 L167.60,265.08 L169.35,264.71 L171.12,264.44 L172.90,264.28 L174.69,264.24 L176.47,264.31 L178.25,264.51 L180.01,264.82 L181.75,265.24 L183.45,265.77 L185.12,266.41 L186.75,267.13 L188.33,267.95 L189.86,268.86 L191.33,269.85 L192.74,270.91 L194.08,272.03 L195.36,273.22 L196.58,274.47 L197.72,275.76 L198.79,277.10 L199.79,278.48 L200.72,279.88 L201.58,281.32 L202.37,282.77 L203.10,284.23 L203.77,285.70 L204.38,287.15 L204.96,288.59 L205.51,290.00 L206.04,291.38 L206.57,292.72 L207.11,294.03 L207.67,295.29 L208.28,296.50 L208.93,297.68 L209.64,298.82 L210.40,299.95 L211.18,301.08 L211.98,302.22 L212.78,303.38 L213.55,304.57 L214.28,305.80 L214.95,307.07 L215.54,308.38 L216.03,309.73 L216.39,311.11 L216.60,312.53 L216.65,313.96 L216.65,316.00 L216.6,330 L127.9,330 Z" fill="#5a0909"/>
<path d="M132.62,316.00 L132.62,313.93 L133.02,312.60 L133.43,311.29 L133.86,309.99 L134.30,308.71 L134.75,307.44 L135.23,306.18 L135.72,304.94 L136.23,303.70 L136.76,302.48 L137.31,301.27 L137.88,300.07 L138.48,298.88 L139.10,297.71 L139.75,296.54 L140.43,295.39 L141.13,294.25 L141.86,293.13 L142.62,292.02 L143.41,290.92 L144.24,289.85 L145.09,288.79 L145.98,287.76 L146.91,286.75 L147.86,285.76 L148.85,284.80 L149.88,283.87 L150.93,282.97 L152.02,282.10 L153.15,281.27 L154.30,280.48 L155.49,279.72 L156.71,279.01 L157.95,278.34 L159.23,277.71 L160.53,277.14 L161.85,276.62 L163.20,276.15 L164.57,275.73 L165.95,275.37 L167.36,275.07 L168.77,274.83 L170.19,274.66 L171.62,274.54 L173.06,274.50 L174.49,274.52 L175.92,274.60 L177.35,274.76 L178.76,274.98 L180.17,275.26 L181.55,275.61 L182.92,276.01 L184.26,276.48 L185.58,277.00 L186.87,277.57 L188.13,278.19 L189.37,278.87 L190.57,279.58 L191.73,280.35 L192.86,281.15 L193.96,281.99 L195.02,282.86 L196.04,283.77 L197.02,284.71 L197.96,285.68 L198.87,286.68 L199.73,287.69 L200.56,288.73 L201.35,289.79 L202.10,290.86 L202.82,291.95 L203.50,293.05 L204.15,294.17 L204.76,295.29 L205.34,296.42 L205.88,297.56 L206.40,298.71 L206.89,299.86 L207.35,301.01 L207.79,302.17 L208.20,303.34 L208.59,304.50 L208.95,305.67 L209.30,306.84 L209.63,308.02 L209.94,309.20 L210.24,310.38 L210.52,311.57 L210.78,312.77 L211.04,313.97 L211.04,316.00 L211.0,330 L132.6,330 Z" fill="#2c0404"/>
</g>
<g clip-path="url(#clipH)">
<path d="M127.50,306.30 C128.42,305.75 130.92,303.90 133.00,303.00 C135.08,302.10 137.27,301.22 140.00,300.90 C142.73,300.58 146.73,300.82 149.40,301.10 C152.07,301.38 153.93,301.88 156.00,302.60 C158.07,303.32 160.83,304.93 161.80,305.40" fill="none" stroke="#000" stroke-width="0.9"/>
<path d="M188.20,305.40 C189.17,304.93 191.93,303.32 194.00,302.60 C196.07,301.88 197.93,301.38 200.60,301.10 C203.27,300.82 207.27,300.58 210.00,300.90 C212.73,301.22 214.92,302.10 217.00,303.00 C219.08,303.90 221.58,305.75 222.50,306.30" fill="none" stroke="#000" stroke-width="0.9"/>
</g>
<path d="M136.60,318.70 C137.70,317.92 141.10,315.02 143.20,314.00 C145.30,312.98 147.20,312.60 149.20,312.60 C151.20,312.60 153.07,312.98 155.20,314.00 C157.33,315.02 160.87,317.92 162.00,318.70" fill="none" stroke="#9a9a9a" stroke-width="0.7"/>
<path d="M136.60,318.70 C137.70,319.22 141.10,321.10 143.20,321.80 C145.30,322.50 147.20,322.90 149.20,322.90 C151.20,322.90 153.07,322.50 155.20,321.80 C157.33,321.10 160.87,319.22 162.00,318.70" fill="none" stroke="#9a9a9a" stroke-width="0.7"/>
<circle cx="149.00" cy="317.20" r="4.5" fill="none" stroke="#9a9a9a" stroke-width="0.7"/>
<path d="M188.20,318.70 C189.33,317.92 192.87,315.02 195.00,314.00 C197.13,312.98 199.00,312.60 201.00,312.60 C203.00,312.60 204.90,312.98 207.00,314.00 C209.10,315.02 212.50,317.92 213.60,318.70" fill="none" stroke="#9a9a9a" stroke-width="0.7"/>
<path d="M188.20,318.70 C189.33,319.22 192.87,321.10 195.00,321.80 C197.13,322.50 199.00,322.90 201.00,322.90 C203.00,322.90 204.90,322.50 207.00,321.80 C209.10,321.10 212.50,319.22 213.60,318.70" fill="none" stroke="#9a9a9a" stroke-width="0.7"/>
<circle cx="200.80" cy="317.20" r="4.5" fill="none" stroke="#9a9a9a" stroke-width="0.7"/>
<path d="M166.30,309.80 C166.73,311.52 168.37,316.97 168.90,320.10 C169.43,323.23 169.80,325.57 169.50,328.60 C169.20,331.63 168.00,335.47 167.10,338.30 C166.20,341.13 164.50,343.38 164.10,345.60 C163.70,347.82 164.30,350.08 164.70,351.60 C165.10,353.12 166.20,354.18 166.50,354.70" fill="none" stroke="#9a9a9a" stroke-width="0.7"/>
<path d="M184.10,309.80 C183.70,311.52 182.20,316.97 181.70,320.10 C181.20,323.23 180.80,325.57 181.10,328.60 C181.40,331.63 182.60,335.47 183.50,338.30 C184.40,341.13 186.10,343.38 186.50,345.60 C186.90,347.82 186.30,350.08 185.90,351.60 C185.50,353.12 184.40,354.18 184.10,354.70" fill="none" stroke="#9a9a9a" stroke-width="0.7"/>
<path d="M169.50,352.20 C169.92,352.42 171.15,353.10 172.00,353.50 C172.85,353.90 173.73,354.63 174.60,354.60 C175.47,354.57 176.22,353.70 177.20,353.30 C178.18,352.90 179.95,352.38 180.50,352.20" fill="none" stroke="#9a9a9a" stroke-width="0.7"/>
<path d="M159.90,370.00 C160.75,369.40 163.25,367.50 165.00,366.40 C166.75,365.30 169.07,363.58 170.40,363.40 C171.73,363.22 172.23,364.80 173.00,365.30 C173.77,365.80 174.33,366.40 175.00,366.40 C175.67,366.40 176.22,365.80 177.00,365.30 C177.78,364.80 178.37,363.22 179.70,363.40 C181.03,363.58 183.15,365.28 185.00,366.40 C186.85,367.52 189.83,369.48 190.80,370.10" fill="none" stroke="#9a9a9a" stroke-width="0.7"/>
<path d="M159.90,370.00 C161.08,370.15 164.48,370.63 167.00,370.90 C169.52,371.17 172.33,371.60 175.00,371.60 C177.67,371.60 180.37,371.15 183.00,370.90 C185.63,370.65 189.50,370.23 190.80,370.10" fill="none" stroke="#9a9a9a" stroke-width="0.7"/>
<path d="M159.90,370.00 C160.58,370.60 162.45,372.55 164.00,373.60 C165.55,374.65 167.37,375.78 169.20,376.30 C171.03,376.82 173.00,376.70 175.00,376.70 C177.00,376.70 179.28,376.82 181.20,376.30 C183.12,375.78 184.90,374.63 186.50,373.60 C188.10,372.57 190.08,370.68 190.80,370.10" fill="none" stroke="#9a9a9a" stroke-width="0.7"/>
<path d="M134.8,375.2 L135.1,395.3" fill="none" stroke="#555" stroke-width="0.9"/>
<path d="M215.2,375.2 L214.9,395.3" fill="none" stroke="#555" stroke-width="0.9"/>
<path d="M120.70,343.40 C120.17,343.38 118.53,343.40 117.50,343.30 C116.47,343.20 115.37,343.13 114.50,342.80 C113.63,342.47 112.97,342.00 112.30,341.30 C111.63,340.60 111.33,340.13 110.50,338.60 C109.67,337.07 108.57,334.63 107.30,332.10 C106.03,329.57 104.08,325.95 102.90,323.40 C101.72,320.85 100.83,318.80 100.20,316.80 C99.57,314.80 99.25,313.20 99.10,311.40 C98.95,309.60 99.12,307.18 99.30,306.00 C99.48,304.82 99.60,304.87 100.20,304.30 C100.80,303.73 102.45,302.88 102.90,302.60 L102.60,297.00 A72.4,72.4 0 0 1 247.40,297.00 L247.40,302.80 L247.10,302.60 C247.55,302.88 249.20,303.73 249.80,304.30 C250.40,304.87 250.52,304.82 250.70,306.00 C250.88,307.18 251.05,309.60 250.90,311.40 C250.75,313.20 250.43,314.80 249.80,316.80 C249.17,318.80 248.28,320.85 247.10,323.40 C245.92,325.95 243.97,329.57 242.70,332.10 C241.43,334.63 240.33,337.07 239.50,338.60 C238.67,340.13 238.37,340.60 237.70,341.30 C237.03,342.00 236.37,342.47 235.50,342.80 C234.63,343.13 233.53,343.20 232.50,343.30 C231.47,343.40 229.83,343.38 229.30,343.40 L229.30,343.40 C229.12,344.17 228.53,346.28 228.20,348.00 C227.87,349.72 227.88,351.47 227.30,353.70 C226.72,355.93 225.83,358.85 224.70,361.40 C223.57,363.95 222.05,366.75 220.50,369.00 C218.95,371.25 217.80,372.78 215.40,374.90 C213.00,377.02 209.35,379.43 206.10,381.70 C202.85,383.97 199.00,386.60 195.90,388.50 C192.80,390.40 190.32,391.97 187.50,393.10 C184.68,394.23 181.08,394.88 179.00,395.30 C176.92,395.72 176.33,395.60 175.00,395.60 C173.67,395.60 173.08,395.72 171.00,395.30 C168.92,394.88 165.32,394.23 162.50,393.10 C159.68,391.97 157.20,390.40 154.10,388.50 C151.00,386.60 147.15,383.97 143.90,381.70 C140.65,379.43 137.00,377.02 134.60,374.90 C132.20,372.78 131.05,371.25 129.50,369.00 C127.95,366.75 126.43,363.95 125.30,361.40 C124.17,358.85 123.28,355.93 122.70,353.70 C122.12,351.47 122.13,349.72 121.80,348.00 C121.47,346.28 120.88,344.17 120.70,343.40" fill="none" stroke="#2a2a2a" stroke-width="1"/>
<path d="M102.9,304.3 Q103.6,310.5 105.6,315.7" fill="none" stroke="#a8a8f2" stroke-width="0.75"/>
<path d="M246.6,305.2 Q246,311 244.6,315.6" fill="none" stroke="#9090f0" stroke-width="0.8"/>
<circle cx="175.0" cy="225.1" r="1.75" fill="none" stroke="#080808" stroke-width="0.8"/>
<circle cx="175.0" cy="230.6" r="1.75" fill="none" stroke="#080808" stroke-width="0.8"/>
<circle cx="146.8" cy="230.1" r="1.75" fill="none" stroke="#080808" stroke-width="0.8"/>
<circle cx="149.4" cy="235.2" r="1.75" fill="none" stroke="#080808" stroke-width="0.8"/>
<circle cx="203.5" cy="230.1" r="1.75" fill="none" stroke="#080808" stroke-width="0.8"/>
<circle cx="200.9" cy="235.2" r="1.75" fill="none" stroke="#080808" stroke-width="0.8"/>
<circle cx="124.2" cy="245.9" r="1.75" fill="none" stroke="#080808" stroke-width="0.8"/>
<circle cx="128.0" cy="249.7" r="1.75" fill="none" stroke="#080808" stroke-width="0.8"/>
<circle cx="226.4" cy="245.9" r="1.75" fill="none" stroke="#080808" stroke-width="0.8"/>
<circle cx="223.1" cy="249.7" r="1.75" fill="none" stroke="#080808" stroke-width="0.8"/>
<circle cx="155.2" cy="249.2" r="1.75" fill="none" stroke="#080808" stroke-width="0.8"/>
<circle cx="175.0" cy="245.9" r="1.75" fill="none" stroke="#080808" stroke-width="0.8"/>
<circle cx="195.9" cy="249.2" r="1.75" fill="none" stroke="#080808" stroke-width="0.8"/>
<circle cx="136.1" cy="261.1" r="1.75" fill="none" stroke="#080808" stroke-width="0.8"/>
<circle cx="214.9" cy="261.1" r="1.75" fill="none" stroke="#080808" stroke-width="0.8"/>
<circle cx="175.0" cy="268.8" r="1.75" fill="none" stroke="#080808" stroke-width="0.8"/>
<circle cx="108.2" cy="270.0" r="1.75" fill="none" stroke="#080808" stroke-width="0.8"/>
<circle cx="112.8" cy="271.3" r="1.75" fill="none" stroke="#080808" stroke-width="0.8"/>
<circle cx="242.4" cy="270.0" r="1.75" fill="none" stroke="#080808" stroke-width="0.8"/>
<circle cx="238.6" cy="271.3" r="1.75" fill="none" stroke="#080808" stroke-width="0.8"/>
<circle cx="122.9" cy="276.9" r="1.75" fill="none" stroke="#080808" stroke-width="0.8"/>
<circle cx="227.6" cy="276.9" r="1.75" fill="none" stroke="#080808" stroke-width="0.8"/>
<circle cx="149.4" cy="276.9" r="1.75" fill="none" stroke="#080808" stroke-width="0.8"/>
<circle cx="201.5" cy="276.9" r="1.75" fill="none" stroke="#080808" stroke-width="0.8"/>
<circle cx="103.1" cy="297.2" r="1.75" fill="none" stroke="#080808" stroke-width="0.8"/>
<circle cx="106.9" cy="297.2" r="1.75" fill="none" stroke="#080808" stroke-width="0.8"/>
<circle cx="117.1" cy="297.2" r="1.75" fill="none" stroke="#080808" stroke-width="0.8"/>
<circle cx="133.1" cy="297.2" r="1.75" fill="none" stroke="#080808" stroke-width="0.8"/>
<circle cx="153.4" cy="297.2" r="1.75" fill="none" stroke="#080808" stroke-width="0.8"/>
<circle cx="175.0" cy="297.2" r="1.75" fill="none" stroke="#080808" stroke-width="0.8"/>
<circle cx="197.9" cy="297.2" r="1.75" fill="none" stroke="#080808" stroke-width="0.8"/>
<circle cx="218.2" cy="297.2" r="1.75" fill="none" stroke="#080808" stroke-width="0.8"/>
<circle cx="234.0" cy="297.2" r="1.75" fill="none" stroke="#080808" stroke-width="0.8"/>
<circle cx="244.1" cy="297.2" r="1.75" fill="none" stroke="#080808" stroke-width="0.8"/>
<circle cx="248.0" cy="297.2" r="1.75" fill="none" stroke="#080808" stroke-width="0.8"/>
<ellipse cx="150.5" cy="287.1" rx="9.1" ry="17.7" transform="rotate(-6 150.5 287.1)" fill="none" stroke="#dca32c" stroke-width="0.95"/>
<ellipse cx="199.7" cy="287.1" rx="9.2" ry="17.7" transform="rotate(5 199.7 287.1)" fill="none" stroke="#dca32c" stroke-width="0.95"/>
<clipPath id="clipR"><path d="M486.60,307.70 L486.60,295.30 A72.4,72.4 0 0 1 631.40,295.30 L631.40,307.70 Z"/></clipPath>
<g clip-path="url(#clipR)">
<rect x="0" y="200" width="738" height="213" fill="#ffffff"/>
<path d="M489.58,316.00 L489.58,314.04 L489.11,312.07 L488.70,310.05 L488.34,308.01 L488.05,305.92 L487.82,303.80 L487.65,301.65 L487.55,299.47 L487.51,297.25 L487.55,295.01 L487.65,292.73 L487.83,290.44 L488.08,288.11 L488.40,285.77 L488.80,283.40 L489.29,281.01 L489.85,278.61 L490.49,276.19 L491.22,273.75 L492.04,271.30 L492.94,268.85 L493.94,266.38 L495.02,263.92 L496.20,261.45 L497.47,258.98 L498.84,256.51 L500.30,254.05 L501.87,251.60 L503.54,249.17 L505.32,246.76 L507.21,244.40 L509.22,242.08 L511.34,239.82 L513.58,237.63 L515.93,235.51 L518.39,233.49 L520.97,231.56 L523.65,229.75 L526.44,228.05 L529.32,226.49 L532.29,225.08 L535.35,223.81 L538.48,222.71 L541.68,221.78 L544.93,221.03 L548.23,220.47 L551.56,220.10 L554.90,219.94 L558.26,219.99 L561.60,220.25 L564.92,220.73 L568.20,221.43 L571.43,222.36 L574.58,223.51 L577.64,224.89 L580.58,226.53 L583.36,228.46 L585.95,230.69 L588.32,233.21 L590.49,235.95 L592.45,238.85 L594.24,241.83 L595.87,244.85 L597.38,247.86 L598.78,250.85 L600.07,253.81 L601.26,256.73 L602.37,259.60 L603.41,262.42 L604.39,265.18 L605.33,267.87 L606.22,270.52 L607.07,273.12 L607.88,275.67 L608.65,278.19 L609.38,280.67 L610.08,283.13 L610.74,285.56 L611.35,287.98 L611.92,290.38 L612.45,292.76 L612.93,295.14 L613.36,297.51 L613.74,299.88 L614.05,302.24 L614.31,304.60 L614.50,306.96 L614.62,309.31 L614.66,311.66 L614.63,314.00 L614.63,316.00 L614.6,330 L489.6,330 Z" fill="#edb6b6"/>
<path d="M491.40,316.00 L491.40,314.02 L491.22,312.15 L491.04,310.24 L490.87,308.31 L490.71,306.35 L490.56,304.35 L490.44,302.31 L490.34,300.24 L490.27,298.12 L490.24,295.97 L490.26,293.77 L490.33,291.53 L490.46,289.25 L490.64,286.94 L490.90,284.59 L491.23,282.21 L491.64,279.80 L492.13,277.37 L492.71,274.91 L493.39,272.44 L494.16,269.96 L495.04,267.47 L496.02,264.98 L497.11,262.50 L498.31,260.03 L499.63,257.59 L501.06,255.17 L502.60,252.79 L504.26,250.45 L506.04,248.16 L507.93,245.93 L509.93,243.76 L512.04,241.66 L514.27,239.63 L516.59,237.69 L519.02,235.84 L521.54,234.08 L524.17,232.43 L526.88,230.88 L529.67,229.47 L532.55,228.19 L535.51,227.07 L538.53,226.13 L541.61,225.38 L544.73,224.83 L547.88,224.49 L551.04,224.39 L554.20,224.52 L557.34,224.91 L560.44,225.56 L563.48,226.48 L566.43,227.67 L569.28,229.14 L572.00,230.85 L574.59,232.78 L577.03,234.90 L579.32,237.20 L581.46,239.63 L583.44,242.18 L585.26,244.82 L586.93,247.52 L588.45,250.27 L589.83,253.04 L591.09,255.80 L592.24,258.55 L593.29,261.26 L594.26,263.91 L595.17,266.50 L596.01,269.04 L596.80,271.52 L597.54,273.94 L598.23,276.32 L598.88,278.64 L599.50,280.92 L600.08,283.15 L600.64,285.35 L601.17,287.51 L601.68,289.63 L602.17,291.73 L602.65,293.80 L603.11,295.85 L603.55,297.88 L603.99,299.90 L604.41,301.91 L604.82,303.92 L605.21,305.92 L605.60,307.92 L605.97,309.93 L606.33,311.94 L606.67,313.97 L606.67,316.00 L606.7,330 L491.4,330 Z" fill="#d97272"/>
<path d="M494.40,316.00 L494.40,314.05 L494.21,312.28 L494.00,310.49 L493.80,308.66 L493.59,306.79 L493.39,304.89 L493.21,302.94 L493.04,300.95 L492.91,298.92 L492.81,296.84 L492.75,294.72 L492.75,292.55 L492.79,290.35 L492.91,288.10 L493.09,285.81 L493.34,283.49 L493.68,281.14 L494.10,278.77 L494.62,276.38 L495.23,273.97 L495.95,271.56 L496.77,269.14 L497.70,266.73 L498.74,264.34 L499.90,261.96 L501.17,259.62 L502.56,257.32 L504.07,255.06 L505.69,252.86 L507.43,250.72 L509.28,248.66 L511.25,246.68 L513.33,244.79 L515.51,243.01 L517.79,241.34 L520.16,239.78 L522.63,238.36 L525.17,237.07 L527.79,235.93 L530.48,234.93 L533.22,234.10 L536.01,233.44 L538.84,232.94 L541.70,232.63 L544.56,232.49 L547.44,232.55 L550.30,232.79 L553.13,233.23 L555.94,233.87 L558.69,234.70 L561.37,235.73 L563.98,236.94 L566.50,238.34 L568.92,239.90 L571.23,241.61 L573.43,243.46 L575.51,245.42 L577.47,247.49 L579.30,249.66 L581.00,251.89 L582.58,254.19 L584.03,256.54 L585.36,258.92 L586.57,261.33 L587.67,263.74 L588.65,266.16 L589.54,268.56 L590.33,270.95 L591.02,273.32 L591.63,275.66 L592.17,277.96 L592.64,280.22 L593.05,282.44 L593.40,284.61 L593.71,286.73 L593.99,288.80 L594.25,290.82 L594.49,292.79 L594.73,294.71 L594.97,296.59 L595.23,298.42 L595.51,300.21 L595.82,301.96 L596.18,303.69 L596.58,305.39 L597.04,307.09 L597.57,308.77 L598.16,310.46 L598.83,312.17 L599.59,313.90 L599.59,316.00 L599.6,330 L494.4,330 Z" fill="#cf3a3a"/>
<path d="M497.47,316.00 L497.47,314.06 L497.21,312.40 L496.95,310.70 L496.69,308.97 L496.44,307.20 L496.22,305.40 L496.02,303.55 L495.84,301.67 L495.71,299.74 L495.61,297.78 L495.56,295.78 L495.57,293.74 L495.63,291.66 L495.76,289.55 L495.96,287.42 L496.24,285.25 L496.59,283.07 L497.03,280.86 L497.56,278.65 L498.18,276.43 L498.90,274.20 L499.72,271.99 L500.64,269.78 L501.66,267.60 L502.79,265.44 L504.02,263.32 L505.37,261.24 L506.81,259.20 L508.37,257.23 L510.02,255.32 L511.78,253.48 L513.64,251.73 L515.59,250.06 L517.64,248.50 L519.77,247.04 L521.99,245.69 L524.28,244.46 L526.64,243.36 L529.06,242.40 L531.54,241.58 L534.06,240.90 L536.63,240.38 L539.21,240.01 L541.82,239.81 L544.44,239.77 L547.05,239.91 L549.65,240.22 L552.22,240.70 L554.75,241.36 L557.23,242.19 L559.65,243.20 L561.99,244.39 L564.25,245.72 L566.41,247.20 L568.48,248.81 L570.43,250.54 L572.28,252.37 L574.02,254.29 L575.64,256.28 L577.14,258.34 L578.53,260.45 L579.81,262.60 L580.97,264.78 L582.03,266.97 L582.98,269.17 L583.82,271.37 L584.58,273.57 L585.24,275.74 L585.82,277.89 L586.31,280.02 L586.74,282.11 L587.11,284.16 L587.42,286.16 L587.68,288.12 L587.90,290.03 L588.10,291.89 L588.27,293.70 L588.44,295.45 L588.60,297.16 L588.77,298.82 L588.96,300.43 L589.18,302.01 L589.43,303.54 L589.72,305.05 L590.06,306.54 L590.47,308.00 L590.94,309.46 L591.49,310.93 L592.11,312.40 L592.82,313.89 L592.82,316.00 L592.8,330 L497.5,330 Z" fill="#cf1a1c"/>
<path d="M504.60,316.00 L504.60,314.08 L504.35,312.66 L504.10,311.21 L503.85,309.73 L503.61,308.22 L503.39,306.67 L503.19,305.09 L503.02,303.47 L502.87,301.81 L502.77,300.12 L502.70,298.39 L502.68,296.63 L502.71,294.84 L502.80,293.01 L502.95,291.16 L503.17,289.29 L503.46,287.40 L503.82,285.49 L504.26,283.57 L504.78,281.65 L505.39,279.72 L506.08,277.80 L506.87,275.89 L507.74,274.00 L508.71,272.13 L509.77,270.30 L510.92,268.50 L512.16,266.74 L513.50,265.04 L514.93,263.40 L516.45,261.82 L518.05,260.31 L519.73,258.88 L521.50,257.54 L523.34,256.30 L525.25,255.16 L527.22,254.12 L529.26,253.19 L531.35,252.39 L533.48,251.71 L535.65,251.16 L537.86,250.75 L540.08,250.47 L542.32,250.34 L544.56,250.36 L546.79,250.53 L549.01,250.84 L551.21,251.31 L553.36,251.91 L555.48,252.65 L557.54,253.51 L559.55,254.49 L561.49,255.59 L563.35,256.80 L565.15,258.10 L566.86,259.49 L568.48,260.96 L570.02,262.51 L571.47,264.13 L572.83,265.80 L574.09,267.52 L575.26,269.29 L576.33,271.08 L577.31,272.91 L578.20,274.75 L579.01,276.60 L579.72,278.46 L580.35,280.32 L580.91,282.17 L581.39,284.00 L581.79,285.82 L582.13,287.61 L582.42,289.37 L582.64,291.11 L582.82,292.80 L582.96,294.47 L583.06,296.09 L583.13,297.67 L583.19,299.21 L583.22,300.72 L583.25,302.18 L583.28,303.60 L583.31,304.99 L583.36,306.34 L583.42,307.67 L583.51,308.97 L583.64,310.24 L583.79,311.50 L584.00,312.76 L584.24,314.01 L584.24,316.00 L584.2,330 L504.6,330 Z" fill="#8e1212"/>
<path d="M513.28,316.00 L513.28,314.03 L513.26,312.95 L513.21,311.85 L513.15,310.72 L513.06,309.57 L512.96,308.40 L512.85,307.19 L512.74,305.95 L512.64,304.67 L512.54,303.35 L512.46,302.00 L512.40,300.61 L512.36,299.19 L512.36,297.72 L512.39,296.23 L512.47,294.70 L512.60,293.15 L512.78,291.56 L513.02,289.96 L513.32,288.34 L513.69,286.70 L514.13,285.05 L514.64,283.40 L515.22,281.75 L515.89,280.11 L516.63,278.48 L517.46,276.87 L518.37,275.29 L519.36,273.74 L520.44,272.23 L521.60,270.76 L522.84,269.36 L524.15,268.01 L525.55,266.73 L527.02,265.52 L528.56,264.40 L530.16,263.36 L531.82,262.42 L533.54,261.58 L535.31,260.85 L537.13,260.23 L538.98,259.73 L540.86,259.36 L542.75,259.11 L544.66,259.00 L546.58,259.03 L548.49,259.19 L550.38,259.50 L552.24,259.95 L554.07,260.54 L555.85,261.28 L557.58,262.17 L559.23,263.20 L560.80,264.38 L562.29,265.67 L563.68,267.08 L564.98,268.59 L566.17,270.18 L567.26,271.83 L568.25,273.54 L569.14,275.29 L569.93,277.07 L570.62,278.86 L571.22,280.65 L571.73,282.44 L572.16,284.20 L572.52,285.94 L572.81,287.65 L573.05,289.31 L573.25,290.92 L573.41,292.47 L573.55,293.97 L573.67,295.39 L573.80,296.75 L573.94,298.05 L574.11,299.27 L574.31,300.44 L574.53,301.56 L574.77,302.64 L575.01,303.70 L575.26,304.74 L575.51,305.77 L575.73,306.79 L575.93,307.81 L576.09,308.83 L576.21,309.86 L576.26,310.89 L576.24,311.92 L576.13,312.96 L575.93,313.98 L575.93,316.00 L575.9,330 L513.3,330 Z" fill="#5a0909"/>
<path d="M522.99,316.00 L522.99,314.15 L522.91,313.39 L522.80,312.61 L522.66,311.80 L522.49,310.96 L522.31,310.10 L522.12,309.19 L521.91,308.25 L521.71,307.28 L521.51,306.26 L521.32,305.21 L521.15,304.12 L520.99,302.99 L520.86,301.82 L520.76,300.62 L520.70,299.38 L520.68,298.12 L520.70,296.83 L520.78,295.51 L520.90,294.18 L521.09,292.83 L521.33,291.47 L521.64,290.10 L522.01,288.73 L522.46,287.36 L522.97,286.01 L523.55,284.67 L524.21,283.36 L524.93,282.07 L525.73,280.81 L526.60,279.60 L527.54,278.43 L528.55,277.32 L529.62,276.27 L530.75,275.29 L531.95,274.38 L533.20,273.54 L534.50,272.80 L535.85,272.14 L537.23,271.58 L538.66,271.12 L540.11,270.77 L541.58,270.53 L543.06,270.40 L544.55,270.40 L546.04,270.51 L547.51,270.74 L548.97,271.09 L550.40,271.54 L551.80,272.10 L553.16,272.75 L554.48,273.50 L555.74,274.33 L556.95,275.25 L558.10,276.23 L559.18,277.29 L560.20,278.41 L561.15,279.58 L562.03,280.79 L562.84,282.05 L563.58,283.34 L564.24,284.66 L564.83,286.00 L565.34,287.36 L565.79,288.72 L566.17,290.08 L566.47,291.44 L566.72,292.79 L566.90,294.13 L567.03,295.45 L567.11,296.74 L567.13,298.00 L567.11,299.24 L567.05,300.44 L566.96,301.60 L566.84,302.72 L566.70,303.79 L566.53,304.83 L566.36,305.82 L566.19,306.76 L566.01,307.67 L565.85,308.53 L565.69,309.34 L565.56,310.12 L565.46,310.86 L565.39,311.57 L565.35,312.24 L565.36,312.89 L565.42,313.52 L565.53,314.13 L565.53,316.00 L565.5,330 L523.0,330 Z" fill="#2c0404"/>
</g>
<g clip-path="url(#clipR)">
<path d="M511.50,304.60 C512.42,304.05 514.92,302.20 517.00,301.30 C519.08,300.40 521.27,299.52 524.00,299.20 C526.73,298.88 530.73,299.12 533.40,299.40 C536.07,299.68 537.93,300.18 540.00,300.90 C542.07,301.62 544.83,303.23 545.80,303.70" fill="none" stroke="#000" stroke-width="0.9"/>
<path d="M572.20,303.70 C573.17,303.23 575.93,301.62 578.00,300.90 C580.07,300.18 581.93,299.68 584.60,299.40 C587.27,299.12 591.27,298.88 594.00,299.20 C596.73,299.52 598.92,300.40 601.00,301.30 C603.08,302.20 605.58,304.05 606.50,304.60" fill="none" stroke="#000" stroke-width="0.9"/>
</g>
<path d="M520.60,317.00 C521.70,316.22 525.10,313.32 527.20,312.30 C529.30,311.28 531.20,310.90 533.20,310.90 C535.20,310.90 537.07,311.28 539.20,312.30 C541.33,313.32 544.87,316.22 546.00,317.00" fill="none" stroke="#9a9a9a" stroke-width="0.7"/>
<path d="M520.60,317.00 C521.70,317.52 525.10,319.40 527.20,320.10 C529.30,320.80 531.20,321.20 533.20,321.20 C535.20,321.20 537.07,320.80 539.20,320.10 C541.33,319.40 544.87,317.52 546.00,317.00" fill="none" stroke="#9a9a9a" stroke-width="0.7"/>
<circle cx="533.00" cy="315.50" r="4.5" fill="none" stroke="#9a9a9a" stroke-width="0.7"/>
<path d="M572.20,317.00 C573.33,316.22 576.87,313.32 579.00,312.30 C581.13,311.28 583.00,310.90 585.00,310.90 C587.00,310.90 588.90,311.28 591.00,312.30 C593.10,313.32 596.50,316.22 597.60,317.00" fill="none" stroke="#9a9a9a" stroke-width="0.7"/>
<path d="M572.20,317.00 C573.33,317.52 576.87,319.40 579.00,320.10 C581.13,320.80 583.00,321.20 585.00,321.20 C587.00,321.20 588.90,320.80 591.00,320.10 C593.10,319.40 596.50,317.52 597.60,317.00" fill="none" stroke="#9a9a9a" stroke-width="0.7"/>
<circle cx="584.80" cy="315.50" r="4.5" fill="none" stroke="#9a9a9a" stroke-width="0.7"/>
<path d="M550.30,308.10 C550.73,309.82 552.37,315.27 552.90,318.40 C553.43,321.53 553.80,323.87 553.50,326.90 C553.20,329.93 552.00,333.77 551.10,336.60 C550.20,339.43 548.50,341.68 548.10,343.90 C547.70,346.12 548.30,348.38 548.70,349.90 C549.10,351.42 550.20,352.48 550.50,353.00" fill="none" stroke="#9a9a9a" stroke-width="0.7"/>
<path d="M568.10,308.10 C567.70,309.82 566.20,315.27 565.70,318.40 C565.20,321.53 564.80,323.87 565.10,326.90 C565.40,329.93 566.60,333.77 567.50,336.60 C568.40,339.43 570.10,341.68 570.50,343.90 C570.90,346.12 570.30,348.38 569.90,349.90 C569.50,351.42 568.40,352.48 568.10,353.00" fill="none" stroke="#9a9a9a" stroke-width="0.7"/>
<path d="M553.50,350.50 C553.92,350.72 555.15,351.40 556.00,351.80 C556.85,352.20 557.73,352.93 558.60,352.90 C559.47,352.87 560.22,352.00 561.20,351.60 C562.18,351.20 563.95,350.68 564.50,350.50" fill="none" stroke="#9a9a9a" stroke-width="0.7"/>
<path d="M543.90,368.30 C544.75,367.70 547.25,365.80 549.00,364.70 C550.75,363.60 553.07,361.88 554.40,361.70 C555.73,361.52 556.23,363.10 557.00,363.60 C557.77,364.10 558.33,364.70 559.00,364.70 C559.67,364.70 560.22,364.10 561.00,363.60 C561.78,363.10 562.37,361.52 563.70,361.70 C565.03,361.88 567.15,363.58 569.00,364.70 C570.85,365.82 573.83,367.78 574.80,368.40" fill="none" stroke="#9a9a9a" stroke-width="0.7"/>
<path d="M543.90,368.30 C545.08,368.45 548.48,368.93 551.00,369.20 C553.52,369.47 556.33,369.90 559.00,369.90 C561.67,369.90 564.37,369.45 567.00,369.20 C569.63,368.95 573.50,368.53 574.80,368.40" fill="none" stroke="#9a9a9a" stroke-width="0.7"/>
<path d="M543.90,368.30 C544.58,368.90 546.45,370.85 548.00,371.90 C549.55,372.95 551.37,374.08 553.20,374.60 C555.03,375.12 557.00,375.00 559.00,375.00 C561.00,375.00 563.28,375.12 565.20,374.60 C567.12,374.08 568.90,372.93 570.50,371.90 C572.10,370.87 574.08,368.98 574.80,368.40" fill="none" stroke="#9a9a9a" stroke-width="0.7"/>
<path d="M518.8,373.5 L519.1,393.6" fill="none" stroke="#555" stroke-width="0.9"/>
<path d="M599.2,373.5 L598.9,393.6" fill="none" stroke="#555" stroke-width="0.9"/>
<path d="M504.70,341.70 C504.17,341.68 502.53,341.70 501.50,341.60 C500.47,341.50 499.37,341.43 498.50,341.10 C497.63,340.77 496.97,340.30 496.30,339.60 C495.63,338.90 495.33,338.43 494.50,336.90 C493.67,335.37 492.57,332.93 491.30,330.40 C490.03,327.87 488.08,324.25 486.90,321.70 C485.72,319.15 484.83,317.10 484.20,315.10 C483.57,313.10 483.25,311.50 483.10,309.70 C482.95,307.90 483.12,305.48 483.30,304.30 C483.48,303.12 483.60,303.17 484.20,302.60 C484.80,302.03 486.45,301.18 486.90,300.90 L486.60,295.30 A72.4,72.4 0 0 1 631.40,295.30 L631.40,301.10 L631.10,300.90 C631.55,301.18 633.20,302.03 633.80,302.60 C634.40,303.17 634.52,303.12 634.70,304.30 C634.88,305.48 635.05,307.90 634.90,309.70 C634.75,311.50 634.43,313.10 633.80,315.10 C633.17,317.10 632.28,319.15 631.10,321.70 C629.92,324.25 627.97,327.87 626.70,330.40 C625.43,332.93 624.33,335.37 623.50,336.90 C622.67,338.43 622.37,338.90 621.70,339.60 C621.03,340.30 620.37,340.77 619.50,341.10 C618.63,341.43 617.53,341.50 616.50,341.60 C615.47,341.70 613.83,341.68 613.30,341.70 L613.30,341.70 C613.12,342.47 612.53,344.58 612.20,346.30 C611.87,348.02 611.88,349.77 611.30,352.00 C610.72,354.23 609.83,357.15 608.70,359.70 C607.57,362.25 606.05,365.05 604.50,367.30 C602.95,369.55 601.80,371.08 599.40,373.20 C597.00,375.32 593.35,377.73 590.10,380.00 C586.85,382.27 583.00,384.90 579.90,386.80 C576.80,388.70 574.32,390.27 571.50,391.40 C568.68,392.53 565.08,393.18 563.00,393.60 C560.92,394.02 560.33,393.90 559.00,393.90 C557.67,393.90 557.08,394.02 555.00,393.60 C552.92,393.18 549.32,392.53 546.50,391.40 C543.68,390.27 541.20,388.70 538.10,386.80 C535.00,384.90 531.15,382.27 527.90,380.00 C524.65,377.73 521.00,375.32 518.60,373.20 C516.20,371.08 515.05,369.55 513.50,367.30 C511.95,365.05 510.43,362.25 509.30,359.70 C508.17,357.15 507.28,354.23 506.70,352.00 C506.12,349.77 506.13,348.02 505.80,346.30 C505.47,344.58 504.88,342.47 504.70,341.70" fill="none" stroke="#2a2a2a" stroke-width="1"/>
<path d="M631.4,298.1 Q630.2,306 628.1,313.9" fill="none" stroke="#8a8af4" stroke-width="1.1"/>
<path d="M488.2,307.4 L491.6,307.4 L491.1,311.2 L490.4,312.3 Z" fill="#e4a0a0"/>
<path d="M489.6,307.4 L491.6,307.4 L491.1,311.0 Z" fill="#dc7a7a"/>
<path d="M488.0,307.6 L488.4,313.2" fill="none" stroke="#c8c8f4" stroke-width="0.6"/>
<circle cx="559.0" cy="223.4" r="1.75" fill="none" stroke="#080808" stroke-width="0.8"/>
<circle cx="559.0" cy="228.9" r="1.75" fill="none" stroke="#080808" stroke-width="0.8"/>
<circle cx="530.8" cy="228.4" r="1.75" fill="none" stroke="#080808" stroke-width="0.8"/>
<circle cx="533.4" cy="233.5" r="1.75" fill="none" stroke="#080808" stroke-width="0.8"/>
<circle cx="587.5" cy="228.4" r="1.75" fill="none" stroke="#080808" stroke-width="0.8"/>
<circle cx="584.9" cy="233.5" r="1.75" fill="none" stroke="#080808" stroke-width="0.8"/>
<circle cx="508.2" cy="244.2" r="1.75" fill="none" stroke="#080808" stroke-width="0.8"/>
<circle cx="512.0" cy="248.0" r="1.75" fill="none" stroke="#080808" stroke-width="0.8"/>
<circle cx="610.4" cy="244.2" r="1.75" fill="none" stroke="#080808" stroke-width="0.8"/>
<circle cx="607.1" cy="248.0" r="1.75" fill="none" stroke="#080808" stroke-width="0.8"/>
<circle cx="539.2" cy="247.5" r="1.75" fill="none" stroke="#080808" stroke-width="0.8"/>
<circle cx="559.0" cy="244.2" r="1.75" fill="none" stroke="#080808" stroke-width="0.8"/>
<circle cx="579.9" cy="247.5" r="1.75" fill="none" stroke="#080808" stroke-width="0.8"/>
<circle cx="520.1" cy="259.4" r="1.75" fill="none" stroke="#080808" stroke-width="0.8"/>
<circle cx="598.9" cy="259.4" r="1.75" fill="none" stroke="#080808" stroke-width="0.8"/>
<circle cx="559.0" cy="267.1" r="1.75" fill="none" stroke="#080808" stroke-width="0.8"/>
<circle cx="492.2" cy="268.3" r="1.75" fill="none" stroke="#080808" stroke-width="0.8"/>
<circle cx="496.8" cy="269.6" r="1.75" fill="none" stroke="#080808" stroke-width="0.8"/>
<circle cx="626.4" cy="268.3" r="1.75" fill="none" stroke="#080808" stroke-width="0.8"/>
<circle cx="622.6" cy="269.6" r="1.75" fill="none" stroke="#080808" stroke-width="0.8"/>
<circle cx="506.9" cy="275.2" r="1.75" fill="none" stroke="#080808" stroke-width="0.8"/>
<circle cx="611.6" cy="275.2" r="1.75" fill="none" stroke="#080808" stroke-width="0.8"/>
<circle cx="533.4" cy="275.2" r="1.75" fill="none" stroke="#080808" stroke-width="0.8"/>
<circle cx="585.5" cy="275.2" r="1.75" fill="none" stroke="#080808" stroke-width="0.8"/>
<circle cx="487.1" cy="295.5" r="1.75" fill="none" stroke="#080808" stroke-width="0.8"/>
<circle cx="490.9" cy="295.5" r="1.75" fill="none" stroke="#080808" stroke-width="0.8"/>
<circle cx="501.1" cy="295.5" r="1.75" fill="none" stroke="#080808" stroke-width="0.8"/>
<circle cx="517.1" cy="295.5" r="1.75" fill="none" stroke="#080808" stroke-width="0.8"/>
<circle cx="537.4" cy="295.5" r="1.75" fill="none" stroke="#080808" stroke-width="0.8"/>
<circle cx="559.0" cy="295.5" r="1.75" fill="none" stroke="#080808" stroke-width="0.8"/>
<circle cx="581.9" cy="295.5" r="1.75" fill="none" stroke="#080808" stroke-width="0.8"/>
<circle cx="602.2" cy="295.5" r="1.75" fill="none" stroke="#080808" stroke-width="0.8"/>
<circle cx="618.0" cy="295.5" r="1.75" fill="none" stroke="#080808" stroke-width="0.8"/>
<circle cx="628.1" cy="295.5" r="1.75" fill="none" stroke="#080808" stroke-width="0.8"/>
<circle cx="632.0" cy="295.5" r="1.75" fill="none" stroke="#080808" stroke-width="0.8"/>
<ellipse cx="534.5" cy="287.0" rx="9.4" ry="17.8" transform="rotate(-6 534.5 287.0)" fill="none" stroke="#dca32c" stroke-width="0.95"/>
<ellipse cx="583.6" cy="287.0" rx="9.3" ry="17.8" transform="rotate(6 583.6 287.0)" fill="none" stroke="#dca32c" stroke-width="0.95"/>
<text x="175.2" y="409.4" font-size="12" text-anchor="middle">Healthy</text>
<text x="559.0" y="409.4" font-size="12" text-anchor="middle">Remitted</text>
</svg>
</body></html>
